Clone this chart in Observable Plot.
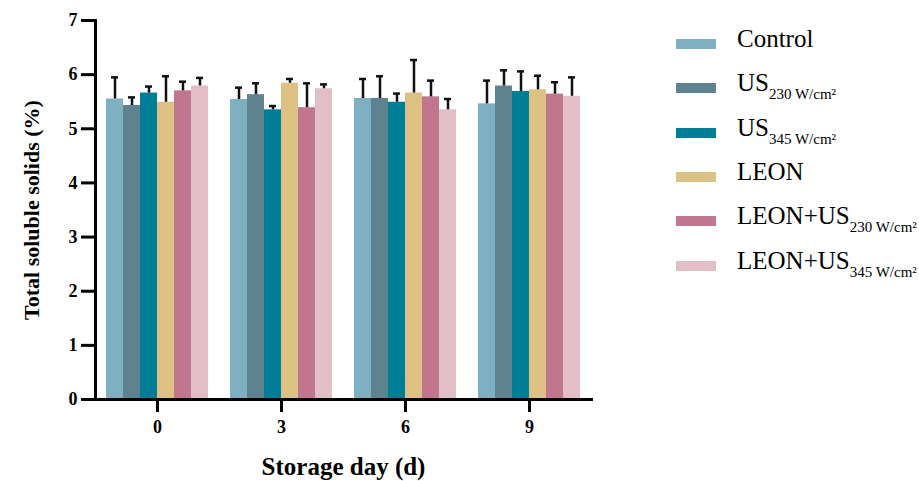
<!DOCTYPE html>
<html><head><meta charset="utf-8">
<script src="https://cdn.jsdelivr.net/npm/d3@7"></script>
<script src="https://cdn.jsdelivr.net/npm/@observablehq/plot@0.6"></script>
<style>
body{margin:0;background:#fff;}
#wrap{position:relative;width:919px;height:481px;font-family:"Liberation Serif","Times New Roman",serif;}
#chart svg, #chart svg text{font-family:"Liberation Serif","Times New Roman",serif;}
#legend{position:absolute;left:0;top:0;}
.row{position:absolute;left:676px;height:30px;width:240px;}
.sw{position:absolute;left:0;width:40px;height:10px;}
.lab{position:absolute;left:61px;font-size:25px;line-height:25px;white-space:nowrap;color:#000;}
.lab sub{font-size:15px;vertical-align:baseline;position:relative;top:8px;}
</style></head>
<body><div id="wrap"><div id="chart"></div><div id="legend"></div></div>
<script>
const days = ["0", "3", "6", "9"];
const groups = ["Control", "US230", "US345", "LEON", "LEON+US230", "LEON+US345"];
const labelBase = ["Control", "US", "US", "LEON", "LEON+US", "LEON+US"];
const labelSub = ["", "230 W/cm²", "345 W/cm²", "", "230 W/cm²", "345 W/cm²"];
const colors = ["#7fb0c1", "#5e8290", "#007e98", "#dcc084", "#bf768e", "#e2bec7"];
const yTicks = [0, 1, 2, 3, 4, 5, 6, 7];

// means per group, one value per storage day (0, 3, 6, 9)
const meanControl = [5.55, 5.54, 5.56, 5.46];
const meanUS230 = [5.43, 5.63, 5.56, 5.79];
const meanUS345 = [5.66, 5.35, 5.49, 5.69];
const meanLEON = [5.49, 5.84, 5.66, 5.72];
const meanLEONUS230 = [5.70, 5.39, 5.59, 5.64];
const meanLEONUS345 = [5.79, 5.74, 5.35, 5.60];
// standard deviations
const sdControl = [0.40, 0.22, 0.36, 0.43];
const sdUS230 = [0.15, 0.21, 0.41, 0.29];
const sdUS345 = [0.12, 0.07, 0.16, 0.37];
const sdLEON = [0.48, 0.08, 0.61, 0.26];
const sdLEONUS230 = [0.17, 0.45, 0.30, 0.22];
const sdLEONUS345 = [0.15, 0.08, 0.20, 0.35];

const means = [meanControl, meanUS230, meanUS345, meanLEON, meanLEONUS230, meanLEONUS345];
const sds = [sdControl, sdUS230, sdUS345, sdLEON, sdLEONUS230, sdLEONUS345];

const rows = [];
days.forEach((d, i) => groups.forEach((g, j) => rows.push({day: d, group: g, mean: means[j][i], sd: sds[j][i]})));

const font = "'Liberation Serif', 'Times New Roman', serif";

const chart = Plot.plot({
  width: 919, height: 481,
  marginLeft: 94, marginRight: 328, marginTop: 20, marginBottom: 82,
  style: {fontFamily: font, color: "#000", background: "#fff"},
  fx: {domain: days, padding: 0, label: null},
  x: {domain: groups, paddingInner: 0, paddingOuter: 0.45, axis: null},
  y: {domain: [0, 7], label: null},
  color: {domain: groups, range: colors},
  marks: [
    Plot.barY(rows, {fx: "day", x: "group", y: "mean", fill: "group"}),
    Plot.ruleX(rows, {fx: "day", x: "group", y1: "mean", y2: d => d.mean + d.sd, stroke: "#111", strokeWidth: 2.5}),
    Plot.tickY(rows, {fx: "day", x: "group", y: d => d.mean + d.sd, stroke: "#111", strokeWidth: 2.5, insetLeft: 5, insetRight: 5}),
    Plot.frame({anchor: "left", facet: "super", stroke: "#000", strokeWidth: 3}),
    Plot.frame({anchor: "bottom", facet: "super", stroke: "#000", strokeWidth: 3}),
    Plot.axisY({ticks: yTicks, tickFormat: d3.format("d"), tickSize: 14, tickPadding: 4, strokeWidth: 3, stroke: "#000", fill: "#000",
      fontSize: 18, fontWeight: "bold", fontFamily: font, label: null}),
    Plot.axisY({ticks: [], tickSize: 0, label: "Total soluble solids (%)", labelAnchor: "center", labelArrow: "none",
      labelOffset: 72, fontSize: 22, fontWeight: "bold", fontFamily: font, fill: "#000"}),
    Plot.axisFx({anchor: "bottom", tickSize: 13, tickPadding: 8, strokeWidth: 3, stroke: "#000", fill: "#000",
      fontSize: 18, fontWeight: "bold", fontFamily: font, label: null}),
    Plot.axisFx({anchor: "bottom", tickSize: 0, tickFormat: () => "", label: "Storage day (d)", labelAnchor: "center",
      labelArrow: "none", labelOffset: 75, fontSize: 25, fontWeight: "bold", fontFamily: font, fill: "#000"})
  ]
});
document.getElementById("chart").appendChild(chart);

const legend = document.getElementById("legend");
groups.forEach((g, i) => {
  const row = document.createElement("div");
  row.className = "row";
  row.style.top = (24 + i * 44.3) + "px";
  const sw = document.createElement("div");
  sw.className = "sw";
  sw.style.background = colors[i];
  sw.style.top = "15px";
  const lab = document.createElement("div");
  lab.className = "lab";
  lab.style.top = "2px";
  lab.innerHTML = labelBase[i] + (labelSub[i] ? "<sub>" + labelSub[i] + "</sub>" : "");
  row.appendChild(sw);
  row.appendChild(lab);
  legend.appendChild(row);
});
</script>
</body></html>
